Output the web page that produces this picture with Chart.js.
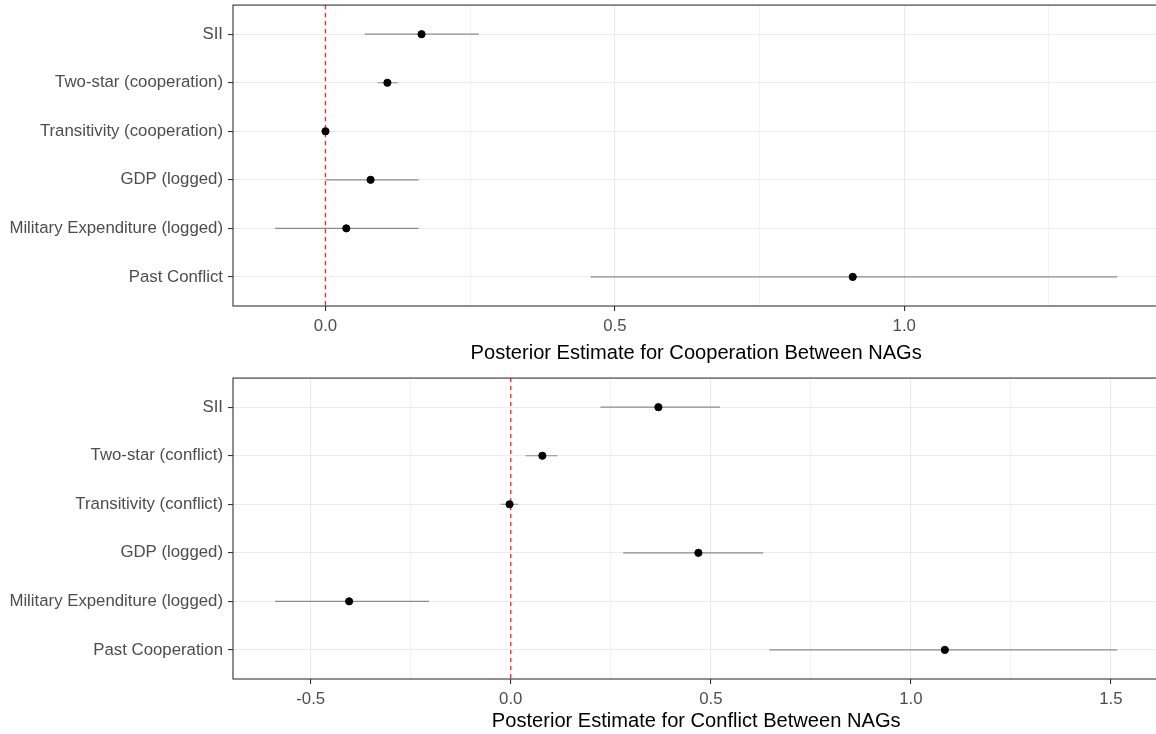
<!DOCTYPE html>
<html>
<head>
<meta charset="utf-8">
<script src="https://cdn.jsdelivr.net/npm/chart.js@4.4.1/dist/chart.umd.min.js"></script>
<style>
  html, body { margin: 0; padding: 0; background: #fff; overflow: hidden; }
  .panel { position: absolute; left: 0; }
  #coopWrap { top: -10px; }
  #confWrap { top: 363px; }
</style>
</head>
<body>
<div class="panel" id="coopWrap"><canvas id="coopChart" width="1164" height="377"></canvas></div>
<div class="panel" id="confWrap"><canvas id="confChart" width="1164" height="371"></canvas></div>
<script>
// --- cooperation model ---
const coopLabels = ['SII', 'Two-star (cooperation)', 'Transitivity (cooperation)',
  'GDP (logged)', 'Military Expenditure (logged)', 'Past Conflict'];
const coopEst  = [0.166, 0.107, 0.000, 0.078, 0.036, 0.911];
const coopLow  = [0.068, 0.090, -0.004, 0.000, -0.087, 0.458];
const coopHigh = [0.265, 0.125, 0.004, 0.161, 0.161, 1.368];

// --- conflict model ---
const confLabels = ['SII', 'Two-star (conflict)', 'Transitivity (conflict)',
  'GDP (logged)', 'Military Expenditure (logged)', 'Past Cooperation'];
const confEst  = [0.369, 0.079, -0.003, 0.469, -0.404, 1.085];
const confLow  = [0.224, 0.037, -0.025, 0.281, -0.589, 0.646];
const confHigh = [0.523, 0.117, 0.018, 0.631, -0.204, 1.516];

const FONT = 'Liberation Sans, Arial, sans-serif';
const GRID = '#EBEBEB';
const DARK = '#333333';

// panel border on top of everything (theme_bw style)
const panelBorder = {
  id: 'panelBorder',
  afterDraw(chart) {
    const { ctx, chartArea: a } = chart;
    ctx.save();
    ctx.strokeStyle = DARK;
    ctx.lineWidth = 1.1;
    ctx.strokeRect(a.left, a.top, a.right - a.left, a.bottom - a.top);
    ctx.restore();
  }
};

function isMajor(v) {
  return Math.abs(v * 2 - Math.round(v * 2)) < 1e-6;
}

function makeForest(id, labels, est, low, high, title, pad) {
  // x range: data range expanded by 5% each side
  const lo = Math.min(...low), hi = Math.max(...high);
  const ext = (hi - lo) * 0.05;
  const n = labels.length;

  const datasets = [];
  // points
  datasets.push({
    type: 'scatter',
    data: est.map((v, i) => ({ x: v, y: i })),
    backgroundColor: '#000',
    borderColor: '#000',
    pointRadius: 3.6,
    pointHoverRadius: 3.6,
    order: 0
  });
  // credible intervals
  low.forEach((l, i) => {
    datasets.push({
      type: 'line',
      data: [{ x: l, y: i }, { x: high[i], y: i }],
      borderColor: '#8C8C8C',
      borderWidth: 1.2,
      pointRadius: 0,
      order: 1
    });
  });
  // reference line at zero
  datasets.push({
    type: 'line',
    data: [{ x: 0, y: -0.6 }, { x: 0, y: n - 0.4 }],
    borderColor: '#FF2020',
    borderWidth: 1.3,
    borderDash: [4, 4],
    pointRadius: 0,
    order: 2
  });

  return new Chart(document.getElementById(id), {
    data: { datasets },
    plugins: [panelBorder],
    options: {
      responsive: false,
      animation: false,
      layout: { padding: 0 },
      plugins: { legend: { display: false }, tooltip: { enabled: false } },
      scales: {
        x: {
          type: 'linear',
          min: lo - ext,
          max: hi + ext,
          afterBuildTicks(scale) {
            const ticks = [];
            for (let k = Math.ceil(scale.min / 0.25); k <= Math.floor(scale.max / 0.25); k++) {
              ticks.push({ value: k * 0.25 });
            }
            scale.ticks = ticks;
          },
          afterFit(scale) { scale.height = pad.xHeight; },
          border: { display: false },
          grid: {
            color: GRID,
            lineWidth: c => isMajor(c.tick.value) ? 1.1 : 0.6,
            tickColor: c => isMajor(c.tick.value) ? DARK : 'rgba(0,0,0,0)',
            tickLength: 5,
            tickWidth: 1.1
          },
          ticks: {
            autoSkip: false,
            maxRotation: 0,
            padding: 5,
            color: '#4D4D4D',
            font: { family: FONT, size: 16.8 },
            callback: v => {
              if (!isMajor(v)) return '';
              const r = Math.round(v * 2) / 2;
              return (r === 0 ? 0 : r).toFixed(1);
            }
          },
          title: {
            display: true,
            text: title,
            color: '#000',
            font: { family: FONT, size: 20.1, lineHeight: 1.2 },
            padding: { top: 0, bottom: pad.titleBottom }
          }
        },
        y: {
          type: 'linear',
          reverse: true,
          min: -0.6,
          max: n - 0.4,
          afterBuildTicks(scale) {
            scale.ticks = labels.map((_, i) => ({ value: i }));
          },
          afterFit(scale) { scale.width = 233; },
          border: { display: false },
          grid: {
            color: GRID,
            lineWidth: 1.1,
            tickColor: DARK,
            tickLength: 5,
            tickWidth: 1.1
          },
          ticks: {
            autoSkip: false,
            padding: 5,
            color: '#4D4D4D',
            font: { family: FONT, size: 16.8 },
            callback: v => labels[v]
          }
        }
      }
    }
  });
}

makeForest('coopChart', coopLabels, coopEst, coopLow, coopHigh,
  'Posterior Estimate for Cooperation Between NAGs', { xHeight: 61, titleBottom: 1 });
makeForest('confChart', confLabels, confEst, confLow, confHigh,
  'Posterior Estimate for Conflict Between NAGs', { xHeight: 55, titleBottom: 0 });
</script>
</body>
</html>
